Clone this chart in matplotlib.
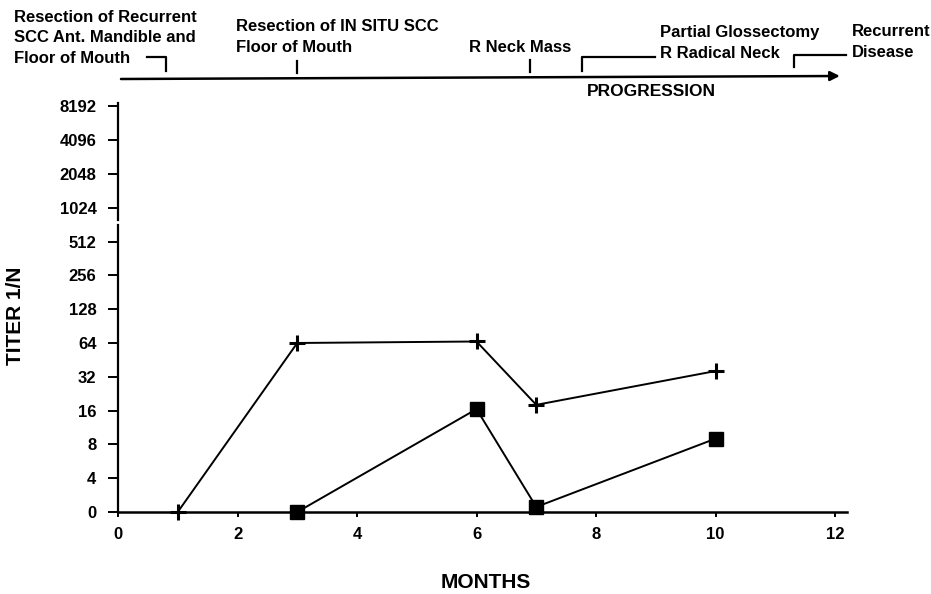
#!/usr/bin/env python3
"""Antibody titer over months, with the clinical course drawn above the axes."""

import matplotlib

matplotlib.use("Agg")
import matplotlib.pyplot as plt
import numpy as np

plt.rcParams["font.family"] = ["Liberation Sans", "DejaVu Sans"]
plt.rcParams["font.weight"] = "bold"

# series (titer values)
MONTHS_PLUS = [1, 3, 6, 7, 10]
TITER_PLUS = [0, 64, 66, 18, 36]
MONTHS_SQUARE = [3, 6, 7, 10]
TITER_SQUARE = [0, 16.5, 0.6, 9]

Y_TICKS = [0, 4, 8, 16, 32, 64, 128, 256, 512, 1024, 2048, 4096, 8192]
X_TICKS = [0, 2, 4, 6, 8, 10, 12]

EVENT_LABELS = [
    "Resection of Recurrent\nSCC Ant. Mandible and\nFloor of Mouth",
    "Resection of IN SITU SCC\nFloor of Mouth",
    "R Neck Mass",
    "Partial Glossectomy\nR Radical Neck",
    "Recurrent\nDisease",
]
EVENT_MONTHS = [0.8, 3.0, 6.9, 7.77, 11.31]

W, H = 931, 594
X0, X1 = 118, 847  # axes edges in px
Y_TOP, Y_BOT = 103, 512


def fwd(v):
    v = np.asarray(v, dtype=float)
    return np.where(v >= 4, np.log2(np.maximum(v, 4)) - 1, v / 4)


def inv(p):
    p = np.asarray(p, dtype=float)
    return np.where(p >= 1, 2 ** (np.maximum(p, 1) + 1), p * 4)


fig = plt.figure(figsize=(W / 100, H / 100), dpi=100)
ax = fig.add_axes([X0 / W, 1 - Y_BOT / H, (X1 - X0) / W, (Y_BOT - Y_TOP) / H])
ax.set_yscale("function", functions=(fwd, inv))
ax.set_xlim(0, 12.2)
ax.set_ylim(0, inv(12.1))

ax.plot(MONTHS_PLUS, TITER_PLUS, color="black", lw=1.4, marker="+",
        ms=11, mew=2.2, clip_on=False, zorder=3)
ax.plot(MONTHS_SQUARE, TITER_SQUARE, color="black", lw=1.4, marker="s",
        ms=10, clip_on=False, zorder=3)

ax.set_yticks(Y_TICKS)
ax.set_yticklabels([str(t) for t in Y_TICKS])
ax.set_xticks(X_TICKS)
ax.minorticks_off()
ax.tick_params(axis="y", direction="out", length=7, width=1.4, pad=8.5, labelsize=12)
ax.tick_params(axis="x", direction="out", length=3.8, width=1.4, pad=7, labelsize=12)

for side in ["top", "right", "left"]:
    ax.spines[side].set_visible(False)
ax.spines["bottom"].set_linewidth(1.8)
# broken y axis between 512 and 1024
ax.plot([0, 0], [0, 719], color="black", lw=1.6, clip_on=False, zorder=4)
ax.plot([0, 0], [798, inv(12.1)], color="black", lw=1.6, clip_on=False, zorder=4)

fig.text(16 / W, 1 - 316 / H, "TITER 1/N", rotation=90, ha="center", va="center", fontsize=15)
fig.text(486 / W, 1 - 582 / H, "MONTHS", ha="center", va="center", fontsize=15)

# timeline strip above the plot, x in months, y in px from top
top = fig.add_axes([X0 / W, 1 - 105 / H, (X1 - X0) / W, 105 / H])
top.set_xlim(0, 12.2)
top.set_ylim(105, 0)
top.axis("off")

kw = dict(color="black", lw=1.6, clip_on=False)
top.annotate("", xy=(12.08, 76), xytext=(0.05, 79),
             arrowprops=dict(arrowstyle="-|>", color="black", lw=1.8,
                             mutation_scale=14, shrinkA=0, shrinkB=0))
top.text(7.85, 92, "PROGRESSION", ha="left", va="center", fontsize=12.5)

# event markers
m = EVENT_MONTHS
top.plot([m[0] - 0.32, m[0], m[0]], [57, 57, 71], **kw)
top.plot([m[1], m[1]], [61, 73], **kw)
top.plot([m[2], m[2]], [60, 72], **kw)
top.plot([m[3], m[3], m[3] + 1.22], [71, 57, 57], **kw)
top.plot([m[4], m[4], m[4] + 0.88], [67, 55, 55], **kw)

tkw = dict(ha="left", va="center", fontsize=12, linespacing=1.42)
top.text(-1.74, 38, EVENT_LABELS[0], **tkw)
top.text(1.97, 37, EVENT_LABELS[1], **tkw)
top.text(5.87, 47, EVENT_LABELS[2], **tkw)
top.text(9.07, 43, EVENT_LABELS[3], **tkw)
top.text(12.28, 42, EVENT_LABELS[4], **tkw)

fig.savefig("out.png", dpi=100)
